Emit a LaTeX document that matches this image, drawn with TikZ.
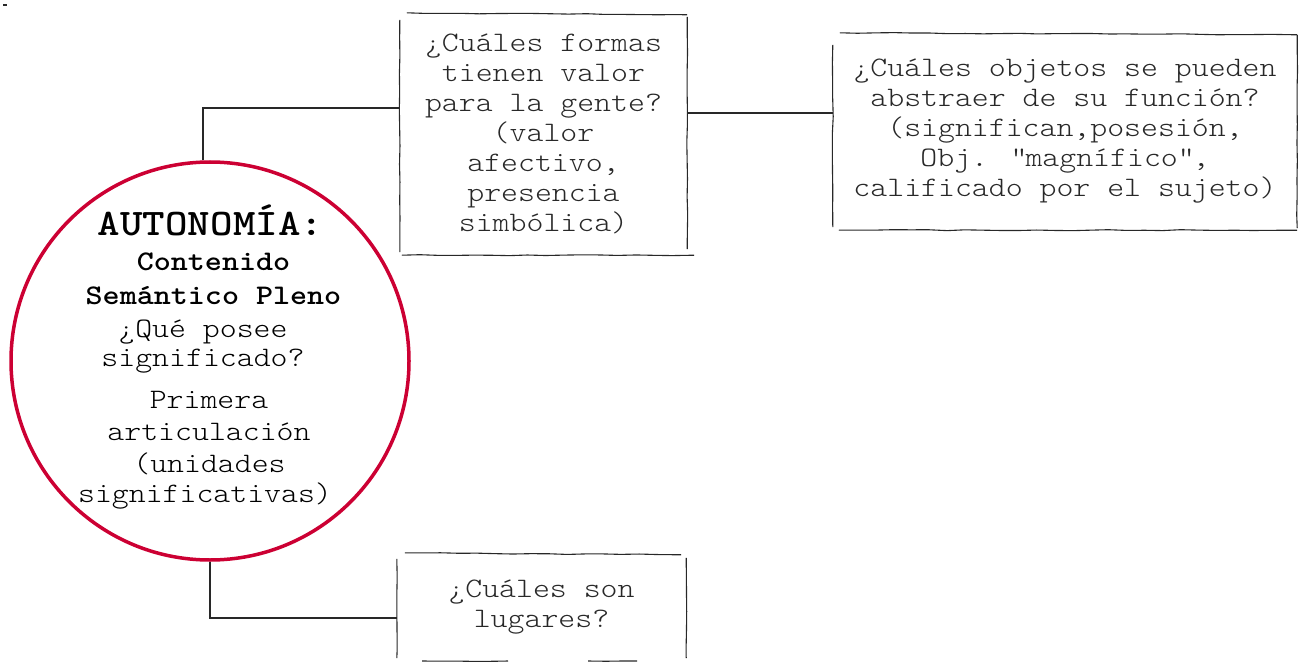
\documentclass[tikz,border=0pt]{standalone}
\usepackage{fontspec}
\setmainfont{lmmonolt10-regular.otf}[BoldFont=lmmonolt10-bold.otf, FakeStretch=1.143]
\usetikzlibrary{decorations.pathmorphing}
\definecolor{autored}{RGB}{204,0,51}
\definecolor{ink}{RGB}{40,40,40}
\tikzset{
  sk/.style={draw=ink, line width=1.1pt, decorate, decoration={random steps, segment length=18pt, amplitude=0.5pt}},
  conn/.style={draw=ink, line width=1.1pt},
  qbox/.style={draw=none, align=center, inner sep=0pt, text=ink, font=\fontsize{28.2}{30}\selectfont},
  ctext/.style={anchor=base, inner sep=0pt, text=black, font=\fontsize{28.2}{30}\selectfont},
  cbold/.style={ctext, font=\fontsize{28.4}{30}\selectfont\bfseries},
  ctitle/.style={ctext, font=\fontsize{37.5}{40}\selectfont\bfseries},
}
\begin{document}
\begin{tikzpicture}[x=1pt, y=-1pt]
\useasboundingbox (0,0) rectangle (1300,663);
\fill[ink] (3,4) rectangle (7,6);

% circle
\node[circle, draw=autored, line width=3.5pt, minimum size=398pt, inner sep=0pt] (auto) at (210,361) {};
\node[ctitle] (l1) at (210.5,235) {AUTONOMÍA:};
\node[cbold]  (l2) at (213.5,270) {Contenido};
\node[cbold]  (l3) at (213.5,304) {Semántico Pleno};
\node[ctext]  (l4) at (203,337) {¿Qué posee};
\node[ctext]  (l5) at (203,366) {significado?};
\node[ctext]  (l6) at (209,408) {Primera};
\node[ctext]  (l7) at (209,440) {articulación};
\node[ctext]  (l8) at (209.5,472) {(unidades};
\node[ctext]  (l9) at (205,502) {significativas)};

% boxes
\node[qbox, minimum width=287pt, minimum height=242pt] (b1) at (543.5,134)
  {¿Cuáles formas\\tienen valor\\para la gente?\\(valor\\afectivo,\\presencia\\simbólica)};
\node[qbox, minimum width=464pt, minimum height=197pt] (b2) at (1065,131.5)
  {¿Cuáles objetos se pueden\\abstraer de su función?\\(significan,posesión,\\Obj. \textquotedbl magnífico\textquotedbl,\\calificado por el sujeto)};
\node[qbox, minimum width=289pt, minimum height=108pt] (b3) at (541.5,607)
  {¿Cuáles son\\lugares?};

% box borders (sketchy)
\draw[sk] ([yshift=-7pt]b1.north west) -- ([yshift=3pt]b1.south west);
\draw[sk] ([xshift=7pt]b1.north west) -- ([yshift=-2pt]b1.north east);
\draw[sk] ([yshift=-4pt]b1.north east) -- ([yshift=6pt]b1.south east);
\draw[sk] ([xshift=2pt]b1.south west) -- ([xshift=7pt]b1.south east);

\draw[sk] ([yshift=-12pt]b2.north west) -- ([yshift=3pt]b2.south west);
\draw[sk] ([xshift=7pt]b2.north west) -- ([yshift=-2pt]b2.north east);
\draw[sk] ([yshift=-2pt]b2.north east) -- ([yshift=2pt]b2.south east);
\draw[sk] ([xshift=6pt]b2.south west) -- (b2.south east);

\draw[sk] ([yshift=-6pt]b3.north west) -- ([yshift=3pt]b3.south west);
\draw[sk] ([xshift=8pt]b3.north west) -- ([yshift=-2pt,xshift=-5pt]b3.north east);
\draw[sk] ([yshift=-5pt]b3.north east) -- ([yshift=3pt]b3.south east);
\coordinate (b3a) at (422,661);
\coordinate (b3b) at (508,661);
\coordinate (b3c) at (588,661);
\coordinate (b3d) at (637,661);
\draw[sk] (b3a) -- (b3b);
\draw[sk] (b3c) -- (b3d);

% connectors
\coordinate (c1) at (0,108);
\coordinate (c2) at (0,113);
\coordinate (c3) at (0,618);
\draw[conn] (auto.92) |- (b1.west |- c1);
\draw[conn] (b1.east |- c2) -- (b2.west |- c2);
\draw[conn] (auto.south) |- (b3.west |- c3);
\end{tikzpicture}
\end{document}
